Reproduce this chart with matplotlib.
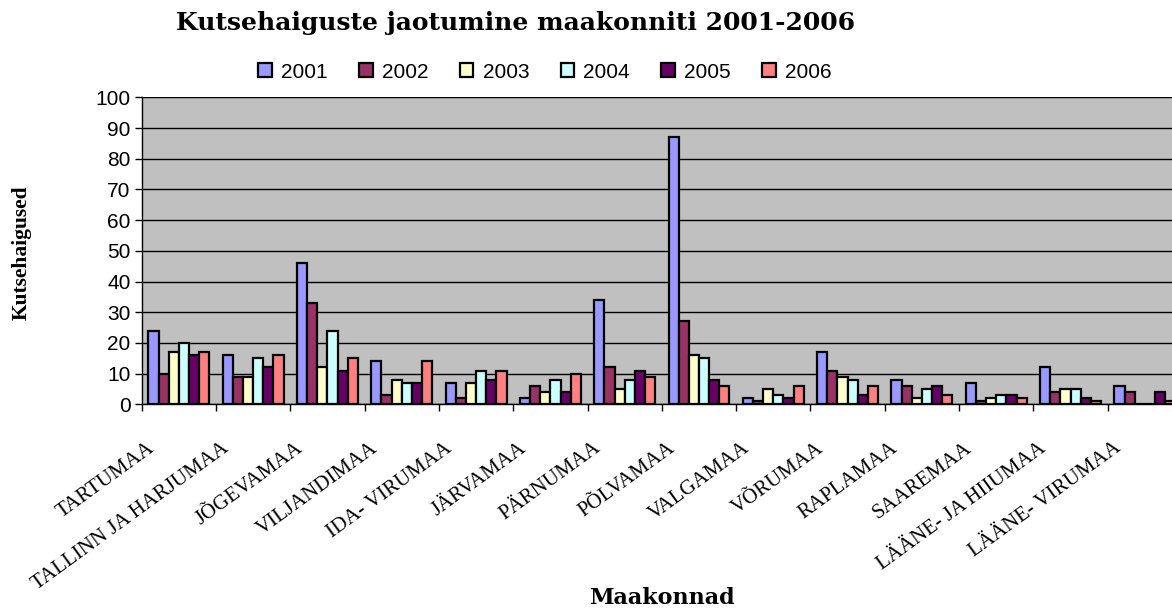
import matplotlib
matplotlib.use("Agg")
import matplotlib.pyplot as plt
import matplotlib.transforms as mtransforms
import numpy as np

categories = ["TARTUMAA", "TALLINN JA HARJUMAA", "JÕGEVAMAA", "VILJANDIMAA",
              "IDA- VIRUMAA", "JÄRVAMAA", "PÄRNUMAA", "PÕLVAMAA", "VALGAMAA",
              "VÕRUMAA", "RAPLAMAA", "SAAREMAA", "LÄÄNE- JA HIIUMAA", "LÄÄNE- VIRUMAA"]
years = ["2001", "2002", "2003", "2004", "2005", "2006"]
v2001 = [24, 16, 46, 14, 7, 2, 34, 87, 2, 17, 8, 7, 12, 6]
v2002 = [10, 9, 33, 3, 2, 6, 12, 27, 1, 11, 6, 1, 4, 4]
v2003 = [17, 9, 12, 8, 7, 4, 5, 16, 5, 9, 2, 2, 5, 0]
v2004 = [20, 15, 24, 7, 11, 8, 8, 15, 3, 8, 5, 3, 5, 0]
v2005 = [16, 12, 11, 7, 8, 4, 11, 8, 2, 3, 6, 3, 2, 4]
v2006 = [17, 16, 15, 14, 11, 10, 9, 6, 6, 6, 3, 2, 1, 1]
series = [v2001, v2002, v2003, v2004, v2005, v2006]
colors = ["#9999FF", "#993366", "#FFFFCC", "#CCFFFF", "#660066", "#FF8080"]

W, H = 1172, 608
fig = plt.figure(figsize=(W / 100, H / 100), dpi=100)
left, right = 141.7, 1182.0
top, bottom = 97.3, 404.3
ax = fig.add_axes([left / W, 1 - bottom / H, (right - left) / W, (bottom - top) / H])
ax.set_facecolor("#C0C0C0")

x = np.arange(len(categories))
bw = 0.82 / 6
for i, (vals, c, yr) in enumerate(zip(series, colors, years)):
    ax.bar(x - 0.41 + bw * (i + 0.5), vals, width=bw, color=c, edgecolor="black",
           linewidth=1.6, label=yr, zorder=3)

ax.set_xlim(-0.5, len(categories) - 0.5)
ax.set_ylim(0, 100)
ax.set_yticks(np.arange(0, 101, 10))
ax.yaxis.grid(True, color="black", linewidth=1.0, zorder=0)
ax.set_axisbelow(True)
ax.tick_params(axis="y", direction="out", length=5, width=1, labelsize=15, pad=3)
for lab in ax.get_yticklabels():
    lab.set_family("Liberation Sans")

ax.set_xticks(np.arange(-0.5, len(categories), 1.0))
ax.set_xticklabels([])
ax.tick_params(axis="x", which="major", direction="out", length=5, width=1)
ax.set_xticks(x, minor=True)
ax.set_xticklabels(categories, minor=True, rotation=36, ha="right", va="center",
                   rotation_mode="anchor", fontsize=15, family="Liberation Serif")
ax.tick_params(axis="x", which="minor", length=0, pad=0)
off = mtransforms.ScaledTranslation(-0.26, -0.42, fig.dpi_scale_trans)
for lab in ax.get_xticklabels(minor=True):
    lab.set_transform(lab.get_transform() + off)

for s in ["top", "right"]:
    ax.spines[s].set_visible(False)
ax.spines["left"].set_color("black")
ax.spines["bottom"].set_color("black")
ax.spines["left"].set_linewidth(1.0)
ax.spines["bottom"].set_linewidth(1.0)

fig.text(515 / W, 1 - 23 / H, "Kutsehaiguste jaotumine maakonniti 2001-2006",
         ha="center", va="center", fontsize=18, fontweight="bold", family="DejaVu Serif")
fig.text(22 / W, 1 - 253 / H, "Kutsehaigused", ha="center", va="center", rotation=90,
         fontsize=15.5, fontweight="bold", family="Liberation Serif")
fig.text(662 / W, 1 - 598 / H, "Maakonnad", ha="center", va="center",
         fontsize=16, fontweight="bold", family="DejaVu Serif")

leg = fig.legend(loc="center", bbox_to_anchor=(545 / W, 1 - 72 / H), ncol=6,
                 frameon=False, prop={"family": "Liberation Sans", "size": 15},
                 handlelength=0.65, handleheight=0.65, handletextpad=0.45,
                 columnspacing=1.5, borderaxespad=0)

fig.savefig("out.png", dpi=100)
